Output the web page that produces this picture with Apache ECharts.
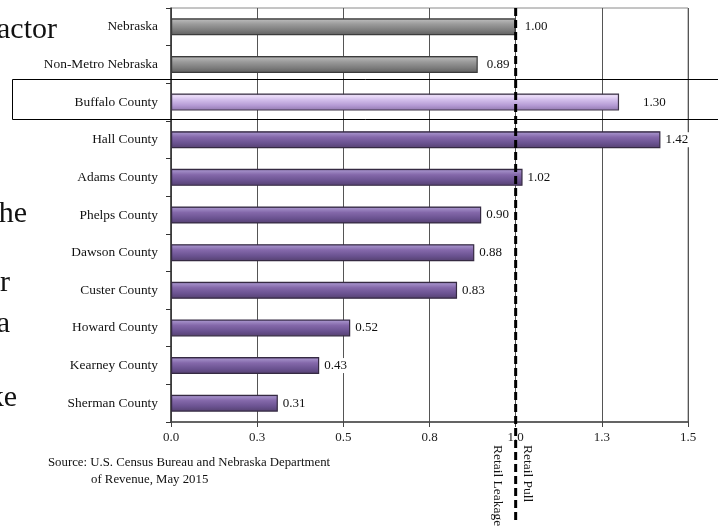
<!DOCTYPE html>
<html>
<head>
<meta charset="utf-8">
<script src="https://cdn.jsdelivr.net/npm/echarts@6/dist/echarts.min.js"></script>
<style>
html,body{margin:0;padding:0;background:#fff;}
#chart{width:718px;height:527px;}
</style>
</head>
<body>
<div id="chart"></div>
<script>
// ---- data ----
var categories = ['Nebraska','Non-Metro Nebraska','Buffalo County','Hall County','Adams County','Phelps County','Dawson County','Custer County','Howard County','Kearney County','Sherman County'];
var values = [1.00, 0.89, 1.30, 1.42, 1.02, 0.90, 0.88, 0.83, 0.52, 0.43, 0.31];
var groups = ['state','state','focus','county','county','county','county','county','county','county','county'];
var xMin = 0, xMax = 1.5, xInterval = 0.25;
var referenceValue = 1.0;
var sideFragments = ['actor','he','r','a','ke'];
var sourceLines = ['Source: U.S. Census Bureau and Nebraska Department','of Revenue, May 2015'];
var refLabels = ['Retail Pull','Retail Leakage'];

function grad(c0,c1,c2,c3,c4){
  return {type:'linear',x:0,y:0,x2:0,y2:1,colorStops:[
    {offset:0,color:c0},{offset:0.12,color:c1},{offset:0.35,color:c2},{offset:0.7,color:c3},{offset:1,color:c4}]};
}
var styles = {
  state: {color: grad('#5a5a5a','#b4b4b4','#9a9a9a','#7c7c7c','#5e5e5e'), borderColor:'#3c3c3c', dist:8},
  focus: {color: grad('#7a6a90','#eee0fb','#d4c0ec','#b49ad4','#9078ae'), borderColor:'#3e3548', dist:23},
  county:{color: grad('#4e3e66','#a18cc6','#8468aa','#6a5290','#54406f'), borderColor:'#352a42', dist:4}
};

var serif = '"Liberation Serif","Times New Roman",serif';
var data = values.map(function(v,i){
  var s = styles[groups[i]];
  return {
    value: v,
    itemStyle: {color: s.color, borderColor: s.borderColor, borderWidth: 1.2},
    label: {distance: s.dist}
  };
});

var chart = echarts.init(document.getElementById('chart'));
var option = {
  animation:false,
  backgroundColor:'#fff',
  grid:{left:171,right:30,top:8,bottom:105,show:true,borderColor:'#8a8a8a',borderWidth:1},
  xAxis:{
    type:'value',min:xMin,max:xMax,interval:xInterval,
    axisLine:{show:true,lineStyle:{color:'#444',width:1.5}},
    axisTick:{show:true,length:5,lineStyle:{color:'#444'}},
    axisLabel:{margin:9,color:'#222',fontFamily:serif,fontSize:13,formatter:function(v){return v.toFixed(1);}},
    splitLine:{show:true,lineStyle:{color:'#555',width:1}}
  },
  yAxis:{
    type:'category',data:categories,inverse:true,
    axisLine:{show:true,lineStyle:{color:'#333',width:1.5}},
    axisTick:{show:true,length:5,lineStyle:{color:'#333'}},
    axisLabel:{margin:13,color:'#111',fontFamily:serif,fontSize:13.4}
  },
  series:[{
    type:'bar',data:data,barWidth:17,
    label:{show:true,position:'right',color:'#111',fontFamily:serif,fontSize:13,
      backgroundColor:'#fff',padding:[1,1],
      formatter:function(p){return p.value.toFixed(2);}}
  }]
};
chart.setOption(option);

var refX = chart.convertToPixel({xAxisIndex:0}, referenceValue);
var fragPos = [[57,45],[27,229],[10,298],[10,339],[17,413]];
var graphics = [];
sideFragments.forEach(function(t,i){
  graphics.push({type:'text',x:fragPos[i][0],y:fragPos[i][1],
    style:{text:t,font:'30px '+serif,fill:'#111',textAlign:'right',textVerticalAlign:'bottom'}});
});
graphics.push({type:'text',x:48,y:463,style:{text:sourceLines[0],font:'12.8px '+serif,fill:'#111',textAlign:'left',textVerticalAlign:'middle'}});
graphics.push({type:'text',x:91,y:480,style:{text:sourceLines[1],font:'12.8px '+serif,fill:'#111',textAlign:'left',textVerticalAlign:'middle'}});
// reference dashed line
graphics.push({type:'line',z:100,shape:{x1:refX,y1:8,x2:refX,y2:520},
  style:{stroke:'#000',lineWidth:3,lineDash:[8,4]}});
graphics.push({type:'text',z:100,x:refX+12,y:445,rotation:-Math.PI/2,
  style:{text:refLabels[0],font:'13.5px '+serif,fill:'#111',textAlign:'left',textVerticalAlign:'middle'}});
graphics.push({type:'text',z:100,x:refX-18,y:445,rotation:-Math.PI/2,
  style:{text:refLabels[1],font:'13.5px '+serif,fill:'#111',textAlign:'left',textVerticalAlign:'middle'}});
// highlight box around Buffalo County
graphics.push({type:'rect',z:90,shape:{x:12.5,y:79.5,width:720,height:40},
  style:{fill:'none',stroke:'#000',lineWidth:1}});
chart.setOption({graphic:graphics});
</script>
</body>
</html>
